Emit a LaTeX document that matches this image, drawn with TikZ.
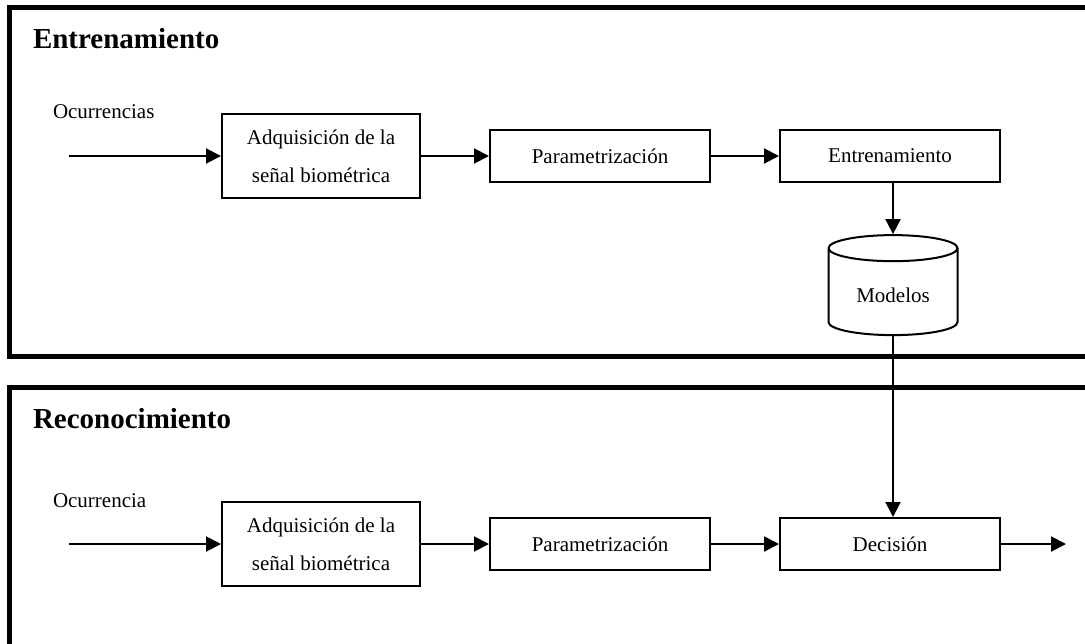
\documentclass[tikz,border=0pt]{standalone}
\usepackage{fontspec}
\setmainfont{Liberation Serif}
\usetikzlibrary{positioning,shapes.geometric,arrows.meta}

\begin{document}
\begin{tikzpicture}[x=0.5pt, y=-0.5pt,
>={Triangle[length=7.5pt,width=7.5pt]},
blocknode/.style={rectangle, draw=black, line width=1pt, minimum width=110pt, minimum height=26pt, font=\fontsize{10.5}{19}\selectfont, align=center},
dbnode/.style={cylinder, shape border rotate=90, draw=black, line width=1pt, aspect=0.3, minimum width=64.5pt, minimum height=50pt, font=\fontsize{10.5}{13}\selectfont},
titlenode/.style={anchor=base west, inner sep=0pt, font=\fontsize{14.5}{17}\selectfont\bfseries},
labelnode/.style={anchor=west, inner sep=0pt, font=\fontsize{10.5}{13}\selectfont},
framebox/.style={draw=black, line width=2.5pt},
node distance=34pt,
line width=1pt,
]
\useasboundingbox (0,0) rectangle (1085,643);
\clip (0,0) rectangle (1085,643);

%Frames
\draw[framebox] (9.5,7.5) rectangle (1100,356);
\draw[framebox] (9.5,387.5) rectangle (1100,660);

%Titles
\node[titlenode]   (tEntr)  at (32,48)   {Entrenamiento};
\node[titlenode]   (tRec)   at (32,428)  {Reconocimiento};
\node[labelnode]   (occs)   at (52,112)  {Ocurrencias};
\node[labelnode]   (occ)    at (52,501)  {Ocurrencia};

%Nodes
\node[blocknode, minimum width=99pt, minimum height=42pt]  (acq1)  at (321,156)     {Adquisición de la\\ señal biométrica};
\node[blocknode]      (par1)        [right=of acq1]      {Parametrización};
\node[blocknode]      (entr)        [right=of par1]      {Entrenamiento};
\node[dbnode]         (mod)         at (893,295)         {Modelos};

\node[blocknode, minimum width=99pt, minimum height=42pt]  (acq2)  at (321,544)     {Adquisición de la\\ señal biométrica};
\node[blocknode]      (par2)        [right=of acq2]      {Parametrización};
\node[blocknode]      (dec)         [right=of par2]      {Decisión};

\coordinate (in1) at (69,156);
\coordinate (in2) at (69,544);
\coordinate (out) at (1066,544);

%Lines
\draw[->] (in1) -- (acq1.west);
\draw[->] (acq1.east) -- (par1.west);
\draw[->] (par1.east) -- (entr.west);
\draw[->] (entr.south -| mod.north) -- (mod.north);
\draw[->] (mod.south) -- (mod.south |- dec.north);
\draw[->] (in2) -- (acq2.west);
\draw[->] (acq2.east) -- (par2.west);
\draw[->] (par2.east) -- (dec.west);
\draw[->] (dec.east) -- (out);
\end{tikzpicture}
\end{document}
